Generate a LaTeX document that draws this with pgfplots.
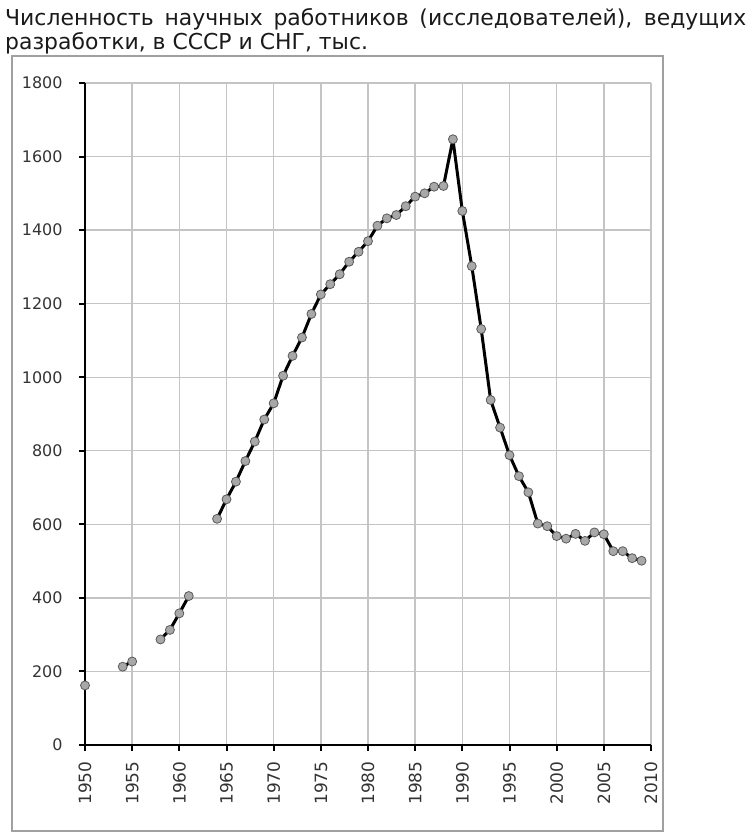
\documentclass[border=0pt]{standalone}
\usepackage{pgfplots}
\pgfplotsset{compat=1.18}
\usepackage{fontspec}
\setmainfont{DejaVu Sans}
\definecolor{gridgray}{HTML}{C4C4C4}
\definecolor{framegray}{HTML}{A0A0A0}
\definecolor{markfill}{HTML}{A8A8A8}
\definecolor{markedge}{HTML}{5A5A5A}
\definecolor{titletext}{HTML}{1A1A1A}
\begin{document}
\begin{tikzpicture}[x=1bp,y=1bp]
\path[use as bounding box] (0,0) rectangle (751,838);
\draw[color=framegray, line width=1.2bp] (12,7) rectangle (663,782);
\node[anchor=base west, inner sep=0pt, text=titletext] at (5,812) {\fontsize{22}{24}\selectfont\makebox[741bp][s]{Численность научных работников (исследователей), ведущих}};
\node[anchor=base west, inner sep=0pt, text=titletext] at (5,788) {\fontsize{22}{24}\selectfont разработки, в СССР и СНГ, тыс.};
\begin{axis}[
  at={(85bp,93bp)}, anchor=south west,
  scale only axis, width=566bp, height=662bp,
  xmin=1950, xmax=2010, ymin=0, ymax=1800,
  xtick={1950,1955,...,2010}, ytick={0,200,...,1800},
  grid=major, major grid style={color=gridgray, line width=1.4bp},
  axis x line=bottom, axis y line=left,
  axis line style={-, black, line width=2.4bp},
  tick style={black, line width=2bp}, major tick length=6bp, tick align=outside,
  xticklabel style={rotate=90, anchor=east, font=\fontsize{17}{17}\selectfont, text=black!80},
  yticklabel style={font=\fontsize{16}{16}\selectfont, text=black!80},
  xticklabel shift=7bp, yticklabel shift=13bp,
  /pgf/number format/1000 sep={}, /pgf/number format/assume math mode=true,
  unbounded coords=jump, clip=false,
]
\addplot[black, line width=3bp, line join=round, mark=*, mark size=4.5bp,
  mark options={fill=markfill, draw=markedge, line width=0.8bp, solid}]
  table[x=year, y=val] {
year val
1950 162
1951 nan
1954 213
1955 227
1956 nan
1958 287
1959 313
1960 358
1961 405
1962 nan
1964 615
1965 668
1966 716
1967 772
1968 825
1969 885
1970 929
1971 1004
1972 1058
1973 1108
1974 1172
1975 1225
1976 1253
1977 1280
1978 1314
1979 1341
1980 1370
1981 1412
1982 1432
1983 1441
1984 1465
1985 1491
1986 1500
1987 1518
1988 1520
1989 1647
1990 1452
1991 1302
1992 1131
1993 938
1994 863
1995 788
1996 731
1997 687
1998 602
1999 595
2000 568
2001 561
2002 574
2003 555
2004 578
2005 573
2006 527
2007 527
2008 508
2009 501
};
\end{axis}
\end{tikzpicture}
\end{document}
